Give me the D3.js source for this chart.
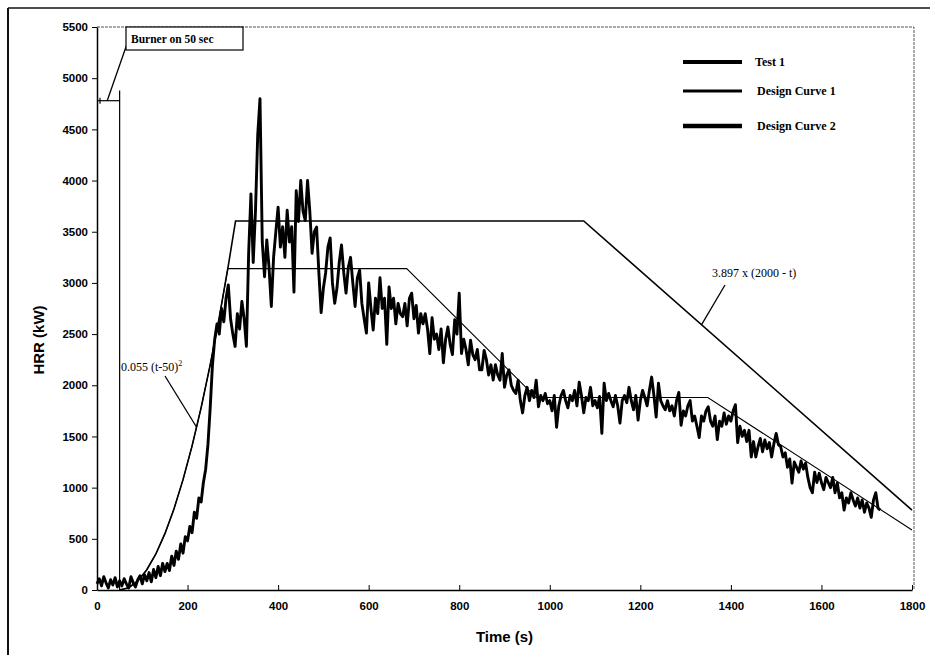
<!DOCTYPE html>
<html>
<head>
<meta charset="utf-8">
<script src="https://cdn.jsdelivr.net/npm/d3@7"></script>
<style>
  body { margin: 0; background: #fff; }
  .tick text { font-family: "Liberation Sans", Arial, sans-serif; font-weight: bold; font-size: 11.5px; }
</style>
</head>
<body>
<script>
// axis ticks
var xTickValues = [0, 200, 400, 600, 800, 1000, 1200, 1400, 1600, 1800];
var yTickValues = [0, 500, 1000, 1500, 2000, 2500, 3000, 3500, 4000, 4500, 5000, 5500];

// Test 1, one reading every 5 s starting at t = 0
var testStep = 5;
var testHRR = [
  60, 110, 40, 130, 70, 20, 100, 50, 120, 30,
  90, 40, 110, 60, 20, 130, 70, 30, 100, 140,
  60, 150, 90, 170, 80, 200, 120, 230, 140, 260,
  180, 260, 190, 330, 240, 380, 300, 450, 360, 520,
  480, 620, 560, 760, 700, 900, 860, 1050, 1180, 1420,
  1780, 2200, 2450, 2600, 2500, 2750, 2620, 2850, 2980, 2650,
  2500, 2380, 2700, 2550, 2820, 2650, 2380, 3300, 3870, 3200,
  3700, 4450, 4800, 3400, 3060, 3420, 3150, 2770, 3250, 3500,
  3740, 3350, 3550, 3250, 3710, 3400, 3550, 2910, 3900, 3600,
  4000, 3700, 3610, 4000, 3700, 3290, 3500, 3545, 3100, 2710,
  2950, 3100, 3350, 3440, 3000, 2800, 2950, 3200, 3370, 3100,
  2900, 3150, 3250, 3000, 2770, 3050, 3125, 2800, 2650, 2510,
  3000, 2750, 2540, 2850, 2700, 3050, 2750, 2850, 2400, 2960,
  2750, 2850, 2600, 2800, 2700, 2670, 2800, 2580, 2850, 2900,
  2650, 2780, 2510, 2700, 2600, 2700, 2550, 2310, 2660, 2450,
  2500, 2350, 2550, 2220, 2450, 2570, 2400, 2300, 2640, 2500,
  2900, 2310, 2450, 2350, 2200, 2440, 2300, 2250, 2350, 2150,
  2150, 2340, 2250, 2100, 2200, 2050, 2200, 2100, 2050, 2310,
  1980, 2100, 2150, 2000, 1950, 1920, 2050, 1850, 1730, 1900,
  1980, 1850, 1950, 1880, 2050, 1790, 1900, 1850, 1920, 1820,
  1850, 1750, 1900, 1590, 1800, 1900, 1950, 1850, 1780, 1900,
  1850, 1950, 1800, 2030, 1900, 1730, 1880, 1850, 1980, 1800,
  1850, 1780, 1890, 1530, 2020, 1850, 1920, 1850, 1790, 1900,
  1800, 1630, 1850, 1900, 1830, 1980, 1850, 1760, 1900, 1660,
  1850, 1950, 1880, 1800, 1950, 2080, 1900, 1690, 2020, 1850,
  1800, 1760, 1850, 1750, 1800, 1700, 1850, 1930, 1610, 1750,
  1700, 1800, 1850, 1650, 1700, 1600, 1490, 1700, 1650, 1750,
  1790, 1650, 1600, 1700, 1470, 1650, 1600, 1730, 1620, 1700,
  1650, 1750, 1810, 1440, 1600, 1500, 1560, 1450, 1560, 1300,
  1450, 1300, 1400, 1480, 1350, 1465, 1380, 1440, 1300, 1430,
  1530, 1420, 1400, 1300, 1340, 1200, 1280, 1045, 1250, 1200,
  1150, 1260, 1180, 1240, 1100, 1000, 950, 1150, 1050, 1140,
  1050, 980, 1100, 1050, 1000, 1100, 950, 1045, 900, 950,
  780, 900, 850, 950, 880, 820, 900, 800, 880, 760,
  850, 800, 710, 880, 950, 800, 780
];

// design curves, [time, HRR]
var design1 = [[50, 0], [70, 22], [90, 88], [110, 198], [130, 352], [150, 550], [170, 792],
  [190, 1078], [210, 1408], [230, 1782], [250, 2200], [270, 2662], [289, 3140],
  [684, 3140], [970, 1880], [1349, 1880], [1800, 586]];
var design2 = [[50, 0], [70, 22], [90, 88], [110, 198], [130, 352], [150, 550], [170, 792],
  [190, 1078], [210, 1408], [230, 1782], [250, 2200], [270, 2662], [290, 3168], [306, 3605],
  [1075, 3605], [1800, 780]];

// burner marker
var burnerTime = 50, burnerLevel = 4780, burnerTop = 4880;

var seriesNames = ["Test 1", "Design Curve 1", "Design Curve 2"];

var w = 935, h = 660;
var plotLeft = 97, plotRight = 912, plotTop = 27, plotBottom = 590;

var svg = d3.select("body").append("svg").attr("width", w).attr("height", h);

// outer frame
svg.append("line").attr("x1", 8).attr("y1", 8).attr("x2", 930).attr("y2", 8).attr("stroke", "#111").attr("stroke-width", 1.5);
svg.append("line").attr("x1", 8).attr("y1", 8).attr("x2", 8).attr("y2", 655).attr("stroke", "#111").attr("stroke-width", 2);

var x = d3.scaleLinear().domain([0, 1800]).range([plotLeft, plotRight]);
var y = d3.scaleLinear().domain([0, 5500]).range([plotBottom, plotTop]);

// plot area border
svg.append("path")
    .attr("d", "M" + x(0) + "," + y(5500) + "H" + (x(1800) + 2) + "V" + y(0))
    .attr("fill", "none").attr("stroke", "#555").attr("stroke-width", 1)
    .attr("stroke-dasharray", "3,1");

var xAxis = svg.append("g")
    .attr("transform", "translate(0," + plotBottom + ")")
    .call(d3.axisBottom(x).tickValues(xTickValues).tickFormat(d3.format("d"))
        .tickSize(-5).tickSizeOuter(0).tickPadding(12));
var yAxis = svg.append("g")
    .attr("transform", "translate(" + plotLeft + ",0)")
    .call(d3.axisLeft(y).tickValues(yTickValues).tickFormat(d3.format("d"))
        .tickSize(5).tickSizeOuter(0).tickPadding(4));
svg.selectAll(".domain").attr("stroke", "#000").attr("stroke-width", 1.5);
svg.selectAll(".tick line").attr("stroke", "#000");

svg.append("text")
    .attr("x", (plotLeft + plotRight) / 2).attr("y", 642)
    .attr("text-anchor", "middle")
    .style("font-family", "Liberation Sans, Arial, sans-serif")
    .style("font-weight", "bold").style("font-size", "15px")
    .text("Time (s)");
svg.append("text")
    .attr("transform", "translate(44,340) rotate(-90)")
    .attr("text-anchor", "middle")
    .style("font-family", "Liberation Sans, Arial, sans-serif")
    .style("font-weight", "bold").style("font-size", "15px")
    .text("HRR (kW)");

var lineFn = d3.line()
    .x(function (d) { return x(d[0]); })
    .y(function (d) { return y(d[1]); });

var testPts = testHRR.map(function (v, i) { return [i * testStep, v]; });

svg.append("path").attr("d", lineFn(design1))
    .attr("fill", "none").attr("stroke", "#000").attr("stroke-width", 1.1);
svg.append("path").attr("d", lineFn(design2))
    .attr("fill", "none").attr("stroke", "#000").attr("stroke-width", 1.6);
svg.append("path").attr("d", lineFn(testPts))
    .attr("fill", "none").attr("stroke", "#000").attr("stroke-width", 2.9)
    .attr("stroke-linejoin", "round");

// burner marker
svg.append("line")
    .attr("x1", x(burnerTime)).attr("x2", x(burnerTime))
    .attr("y1", y(burnerTop)).attr("y2", y(0))
    .attr("stroke", "#000").attr("stroke-width", 1.2);
svg.append("line")
    .attr("x1", x(0)).attr("x2", x(burnerTime))
    .attr("y1", y(burnerLevel)).attr("y2", y(burnerLevel))
    .attr("stroke", "#000").attr("stroke-width", 1.2);
svg.append("line")
    .attr("x1", x(0) + 3).attr("x2", x(0) + 3)
    .attr("y1", y(burnerLevel) - 3).attr("y2", y(burnerLevel) + 3)
    .attr("stroke", "#000").attr("stroke-width", 1.2);
svg.append("line")
    .attr("x1", x(burnerTime * 0.45)).attr("y1", y(burnerLevel))
    .attr("x2", 127).attr("y2", 44)
    .attr("stroke", "#000").attr("stroke-width", 1.3);
svg.append("rect")
    .attr("x", 126).attr("y", 27).attr("width", 117).attr("height", 23)
    .attr("fill", "#fff").attr("stroke", "#000").attr("stroke-width", 1.2);
svg.append("text")
    .attr("x", 131).attr("y", 43)
    .style("font-family", "Liberation Serif, Times New Roman, serif")
    .style("font-weight", "bold").style("font-size", "11.5px")
    .text("Burner on 50 sec");

// formula labels
var serif = "Liberation Serif, Times New Roman, serif";
var growthAnchor = [220, 1590];
svg.append("line")
    .attr("x1", 165).attr("y1", 376)
    .attr("x2", x(growthAnchor[0])).attr("y2", y(growthAnchor[1]))
    .attr("stroke", "#000").attr("stroke-width", 1.3);
var g1 = svg.append("text").attr("x", 121).attr("y", 371)
    .style("font-family", serif).style("font-size", "12px");
g1.append("tspan").text("0.055 (t-50)");
g1.append("tspan").attr("dy", -5).style("font-size", "8px").text("2");

var decayAnchor = [1335, 2590];
svg.append("line")
    .attr("x1", 725).attr("y1", 285)
    .attr("x2", x(decayAnchor[0])).attr("y2", y(decayAnchor[1]))
    .attr("stroke", "#000").attr("stroke-width", 1.3);
svg.append("text").attr("x", 712).attr("y", 277)
    .style("font-family", serif).style("font-size", "12px")
    .text("3.897 x (2000 - t)");

// legend
var legendY = [62, 91, 126];
var legendW = [4, 3, 4.5];
var legend = svg.append("g");
seriesNames.forEach(function (name, i) {
    legend.append("line")
        .attr("x1", 683).attr("x2", 742)
        .attr("y1", legendY[i]).attr("y2", legendY[i])
        .attr("stroke", "#000").attr("stroke-width", legendW[i]);
    legend.append("text")
        .attr("x", i === 0 ? 755 : 757).attr("y", legendY[i] + 4)
        .style("font-family", serif).style("font-weight", "bold").style("font-size", "12px")
        .text(name);
});
</script>
</body>
</html>
